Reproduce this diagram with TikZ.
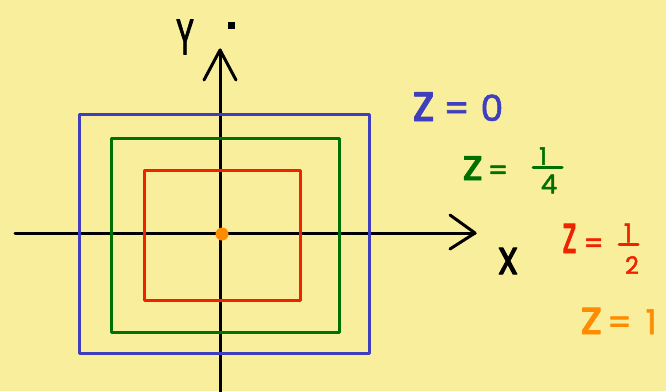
\documentclass[tikz,border=0pt]{standalone}
\usepackage{fontspec}
\usepackage{graphicx}
\setmainfont{Poppins}[FakeBold=1.8]
\definecolor{bg}{RGB}{249,238,155}
\definecolor{cblue}{RGB}{62,62,190}
\definecolor{cgreen}{RGB}{0,112,0}
\definecolor{cred}{RGB}{240,35,0}
\definecolor{corange}{RGB}{255,140,0}
\newcommand{\zz}[2]{\scalebox{#1}[#2]{z}}
\begin{document}
\begin{tikzpicture}[x=1pt,y=-1pt,line width=3pt,line cap=round,line join=round,
  lbl/.style={inner sep=0pt,anchor=base west},
  frac/.style={inner sep=0pt},
  bar/.style={line width=3pt}]
\fill[bg] (0,0) rectangle (666,391);
\useasboundingbox (0,0) rectangle (666,391);
% axes
\coordinate (xs) at (15,233);
\coordinate (xe) at (475,233);
\coordinate (xw1) at (450,215);
\coordinate (xw2) at (450,249);
\coordinate (ys) at (220,395);
\coordinate (ye) at (220,50);
\coordinate (yw1) at (204,80);
\coordinate (yw2) at (236,80);
\draw (xs) -- (xe);
\draw (xw1) -- (xe) -- (xw2);
\draw (ys) -- (ye);
\draw (yw1) -- (ye) -- (yw2);
% rectangles
\draw[cblue] (79,114) rectangle (369,353);
\draw[cgreen] (111,138) rectangle (339,332);
\draw[cred] (144,170) rectangle (300,300);
% origin dot
\node[circle,fill=corange,minimum size=13pt,inner sep=0pt] (o) at (222,234) {};
% axis labels
\node[inner sep=0pt,font=\fontsize{50}{50}\selectfont] (ylab) at (185,37) {\scalebox{0.62}[1]{Y}};
\node[fill=black,minimum size=7pt,inner sep=0pt] (ydot) at (231,25) {};
\node[inner sep=0pt,font=\fontsize{40}{40}\selectfont] (xlab) at (508,261) {\scalebox{1}[1.2]{x}};
% z = 0
\node[lbl,cblue,font=\fontsize{36}{36}\selectfont] (zb) at (411,121) {\zz{1.35}{1.45}\hspace{9pt}=\hspace{11pt}0};
% z = 1/4
\node[lbl,cgreen,font=\fontsize{28}{28}\selectfont] (zg) at (461,180) {\zz{1.6}{1.55}\hspace{5pt}=};
\node[frac,cgreen,font=\fontsize{24}{24}\selectfont] (g1) at (543,156) {1};
\node[frac,cgreen,font=\fontsize{26}{26}\selectfont] (g4) at (549,184) {4};
\coordinate (gb1) at (533,167);
\coordinate (gb2) at (562,167);
\draw[cgreen,bar] (gb1) -- (gb2);
% z = 1/2
\node[lbl,cred,font=\fontsize{28}{28}\selectfont] (zr) at (561,253) {\zz{1.1}{1.9}\hspace{7pt}=};
\node[frac,cred,font=\fontsize{26}{26}\selectfont] (r1) at (628,233) {1};
\node[frac,cred,font=\fontsize{24}{24}\selectfont] (r2) at (632,265) {2};
\coordinate (rb1) at (619,244);
\coordinate (rb2) at (638,244);
\draw[cred,bar] (rb1) -- (rb2);
% z = 1
\node[lbl,corange,font=\fontsize{34}{34}\selectfont] (zo) at (579,334) {\zz{1.4}{1.4}\hspace{5pt}=\hspace{14pt}1};
\end{tikzpicture}
\end{document}
